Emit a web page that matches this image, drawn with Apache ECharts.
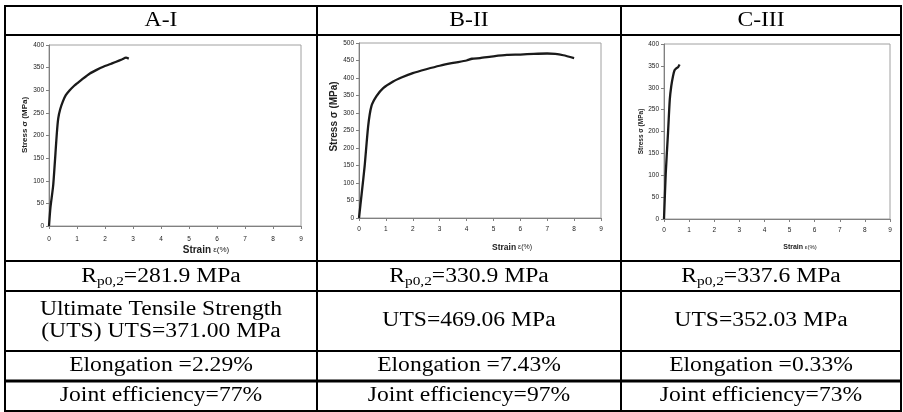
<!DOCTYPE html>
<html>
<head>
<meta charset="utf-8">
<script src="https://cdn.jsdelivr.net/npm/echarts@6/dist/echarts.min.js"></script>
<style>
  html, body { margin: 0; padding: 0; background: #fff; }
  #main { width: 903px; height: 412px; }
</style>
</head>
<body>
<div id="main"></div>
<script>
// stress-strain curves
const strainA = [0, 0.05, 0.15, 0.28, 0.33, 0.4, 0.5, 0.6, 0.74, 0.9, 1.0, 1.2, 1.46, 1.7, 1.94, 2.2, 2.4, 2.6, 2.75, 2.85];
const stressA = [0, 40, 90, 205, 238, 258, 276, 289, 300, 310, 315, 325, 337, 345, 352, 358, 363, 368, 372, 370];

const strainB = [0, 0.1, 0.21, 0.34, 0.46, 0.65, 0.9, 1.27, 1.6, 2.0, 2.5, 3.0, 3.5, 4.0, 4.2, 4.5, 5.0, 5.5, 6.0, 6.5, 7.0, 7.3, 7.6, 8.0];
const stressB = [0, 70, 148, 262, 319, 348, 371, 390, 402, 414, 425, 435, 443, 450, 455, 457, 462, 466, 467, 469, 470, 469, 465, 457];

const strainC = [0, 0.07, 0.16, 0.23, 0.29, 0.36, 0.42, 0.5, 0.56, 0.62];
const stressC = [0, 105, 197, 273, 304, 327, 340, 345, 347, 353];

const yMax = [400, 500, 400];

// table texts
const headers = ['A-I', 'B-II', 'C-III'];
const rp02 = ['281.9', '330.9', '337.6'];
const uts = ['371.00', '469.06', '352.03'];
const elongation = ['2.29', '7.43', '0.33'];
const efficiency = ['77', '97', '73'];

const chart = echarts.init(document.getElementById('main'), null, { renderer: 'canvas' });

// plot boxes (px) for each panel
const boxes = [
  { left: 49, top: 45, right: 301, bottom: 226 },
  { left: 359, top: 43, right: 601, bottom: 218 },
  { left: 664, top: 44, right: 890, bottom: 219 }
];
// per-panel label/name tuning
const look = [
  { xName: 10, xEps: 8, yName: 8, xGap: 19, yGap: 20, xShift: 62, yShift: 21, lblMargin: 10 },
  { xName: 8.5, xEps: 7, yName: 10, xGap: 25, yGap: 18, xShift: 64, yShift: 28, lblMargin: 8 },
  { xName: 7, xEps: 6, yName: 6.5, xGap: 25, yGap: 19, xShift: 46, yShift: 0, lblMargin: 8 }
];

const grids = boxes.map(b => ({
  left: b.left, top: b.top, width: b.right - b.left, height: b.bottom - b.top,
  show: true, backgroundColor: '#fff', borderColor: '#a0a0a0', borderWidth: 1,
  containLabel: false, outerBoundsMode: 'none'
}));

const labelStyle = { fontFamily: 'Liberation Sans', fontSize: 6.5, color: '#222' };

const xAxes = look.map((l, i) => ({
  type: 'value', gridIndex: i, min: 0, max: 9, interval: 1,
  name: '{b|Strain} ε(%)', nameLocation: 'middle', nameGap: l.xGap,
  nameTextStyle: {
    fontFamily: 'Liberation Sans', fontSize: l.xEps, color: '#222',
    padding: [0, 0, 0, l.xShift],
    rich: { b: { fontFamily: 'Liberation Sans', fontSize: l.xName, fontWeight: 'bold', color: '#222' } }
  },
  axisLine: { onZero: false, lineStyle: { color: '#808080', width: 1 } },
  axisTick: { show: true, length: 3, lineStyle: { color: '#808080' } },
  axisLabel: Object.assign({ margin: l.lblMargin }, labelStyle),
  splitLine: { show: false }
}));

const yAxes = look.map((l, i) => ({
  type: 'value', gridIndex: i, min: 0, max: yMax[i], interval: 50,
  name: 'Stress σ (MPa)', nameLocation: 'middle', nameGap: l.yGap,
  nameTextStyle: {
    fontFamily: 'Liberation Sans', fontSize: l.yName, fontWeight: 'bold', color: '#222',
    padding: [0, 0, 0, l.yShift]
  },
  axisLine: { show: true, onZero: false, lineStyle: { color: '#808080', width: 1 } },
  axisTick: { show: true, length: 3, lineStyle: { color: '#808080' } },
  axisLabel: Object.assign({ margin: 5 }, labelStyle),
  splitLine: { show: false }
}));

const zip = (xs, ys) => xs.map((x, k) => [x, ys[k]]);
const curves = [zip(strainA, stressA), zip(strainB, stressB), zip(strainC, stressC)];

const series = curves.map((d, i) => ({
  type: 'line', xAxisIndex: i, yAxisIndex: i, data: d,
  showSymbol: false, symbol: 'none', smooth: 0.2, silent: true,
  lineStyle: { color: '#1a1a1a', width: 2.3 }
}));

// table frame
const colX = [5, 317, 621, 901];
const rowY = [6, 35, 261, 291, 351, 381, 411];
const colMid = [161, 469, 761];

const graphic = [];
rowY.forEach((y, k) => {
  graphic.push({
    type: 'line', silent: true, z: 10,
    shape: { x1: colX[0] - 1, y1: y, x2: colX[3] + 1, y2: y },
    style: { stroke: '#000', lineWidth: k === 5 ? 3 : 2 }
  });
});
colX.forEach(x => {
  graphic.push({
    type: 'line', silent: true, z: 10,
    shape: { x1: x, y1: rowY[0], x2: x, y2: rowY[6] },
    style: { stroke: '#000', lineWidth: 2 }
  });
});

const mainFont = '20px "Liberation Serif"';
function cell(text, x, y, extra) {
  return {
    type: 'text', silent: true, z: 11, x: x, y: y, scaleX: 1.18,
    style: Object.assign({
      text: text, font: mainFont, fill: '#000',
      textAlign: 'center', textVerticalAlign: 'middle',
      align: 'center', verticalAlign: 'middle', lineHeight: 22
    }, extra || {})
  };
}
const subRich = { s: { font: '13px "Liberation Serif"', fontFamily: 'Liberation Serif', fontSize: 13, lineHeight: 8, verticalAlign: 'bottom' } };

for (let c = 0; c < 3; c++) {
  const mx = colMid[c];
  graphic.push(cell(headers[c], mx, 21));
  graphic.push(cell('R{s|p0,2}=' + rp02[c] + ' MPa', mx, 277, { rich: subRich }));
  if (c === 0) {
    graphic.push(cell('Ultimate Tensile Strength\n(UTS) UTS=' + uts[c] + ' MPa', mx, 321));
  } else {
    graphic.push(cell('UTS=' + uts[c] + ' MPa', mx, 321));
  }
  graphic.push(cell('Elongation =' + elongation[c] + '%', mx, 366));
  graphic.push(cell('Joint efficiency=' + efficiency[c] + '%', mx, 396));
}

chart.setOption({
  animation: false,
  backgroundColor: '#fff',
  grid: grids,
  xAxis: xAxes,
  yAxis: yAxes,
  series: series,
  graphic: graphic
});
</script>
</body>
</html>
